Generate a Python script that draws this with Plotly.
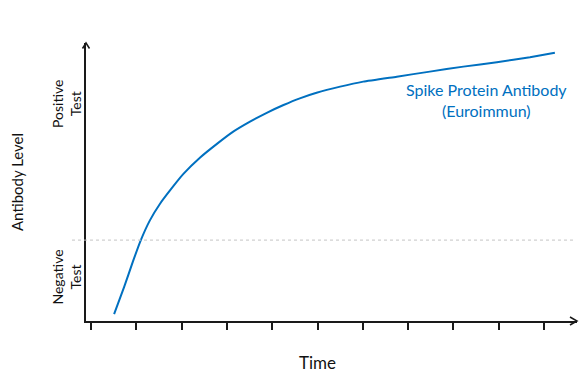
import plotly.graph_objects as go

# Data (time in tick units, antibody level 0-100)
time_vals = [0.51, 0.73, 0.93, 1.10, 1.30, 1.52, 1.77, 2.04, 2.41, 2.78, 3.14, 3.51,
             3.88, 4.25, 4.61, 4.98, 5.50, 6.01, 6.75, 7.48, 8.22, 8.96, 9.69, 10.24]
level_vals = [2.5, 12.2, 21.6, 29.1, 36.2, 42.1, 47.5, 52.9, 58.8, 63.7, 68.1, 71.7,
              74.9, 77.7, 80.1, 82.1, 84.3, 86.1, 87.9, 89.7, 91.5, 93.1, 94.9, 96.5]
tick_positions = list(range(11))
threshold = 29.1
series_name = "Spike Protein Antibody<br>(Euroimmun)"

BLUE = "#0070C0"
AX = "#1a1a1a"
FONT = "Lato"

fig = go.Figure()
fig.add_trace(go.Scatter(x=time_vals, y=level_vals, mode="lines",
                         line=dict(color=BLUE, width=2, shape="spline", smoothing=0.4),
                         hoverinfo="skip", showlegend=False))

W, H = 491.0, 278.0  # plot area in px

shapes = [
    # threshold dotted line
    dict(type="line", xref="paper", yref="y", x0=-14 / W, x1=489 / W, y0=threshold, y1=threshold,
         line=dict(color="#c4c4c4", width=1, dash="dot")),
    # x-axis arrow head
    dict(type="path", xref="paper", yref="paper",
         path=f"M {1 - 7 / W},{4 / H} L 1,0 L {1 - 7 / W},{-4 / H}",
         line=dict(color=AX, width=1.5)),
    # y-axis arrow head
    dict(type="path", xref="paper", yref="paper",
         path=f"M {-3.5 / W},{1 - 5.5 / H} L 0,1 L {3.5 / W},{1 - 5.5 / H}",
         line=dict(color=AX, width=1.5)),
]

annotations = [
    dict(text="Time", xref="paper", yref="paper", x=(317 - 86) / W, y=(321 - 362.5) / H,
         showarrow=False, xanchor="center", yanchor="middle",
         font=dict(family=FONT, size=17, color="#111")),
    dict(text="Antibody Level", xref="paper", yref="paper", x=(17 - 86) / W, y=(321 - 182) / H,
         textangle=-90, showarrow=False, xanchor="center", yanchor="middle",
         font=dict(family=FONT, size=15, color="#111")),
    dict(text="Positive<br>Test", xref="paper", yref="paper", x=(66 - 86) / W, y=(321 - 104) / H,
         textangle=-90, showarrow=False, xanchor="center", yanchor="middle",
         font=dict(family=FONT, size=14, color="#111")),
    dict(text="Negative<br>Test", xref="paper", yref="paper", x=(66 - 86) / W, y=(321 - 277.5) / H,
         textangle=-90, showarrow=False, xanchor="center", yanchor="middle",
         font=dict(family=FONT, size=14, color="#111")),
    dict(text=series_name, xref="paper", yref="paper", x=(486 - 86) / W, y=(321 - 100) / H,
         showarrow=False, xanchor="center", yanchor="middle",
         font=dict(family=FONT, size=16, color=BLUE)),
]

# The page body has an 8px default margin, so the figure is 8px smaller
# and its left/top margins are 8px smaller to keep the plot area in place.
fig.update_layout(
    width=580, height=373,
    margin=dict(l=78, r=11, t=35, b=60),
    paper_bgcolor="white", plot_bgcolor="white",
    shapes=shapes, annotations=annotations,
    xaxis=dict(range=[(86 - 91) / 45.3, (577 - 91) / 45.3], showgrid=False, zeroline=False,
               showline=True, linecolor=AX, linewidth=1.5,
               tickmode="array", tickvals=tick_positions, ticktext=[""] * len(tick_positions),
               ticks="outside", ticklen=7, tickwidth=1.5, tickcolor=AX, showticklabels=False,
               fixedrange=True),
    yaxis=dict(range=[0, 100], showgrid=False, zeroline=False,
               showline=True, linecolor=AX, linewidth=1.5,
               showticklabels=False, ticks="", fixedrange=True),
)

fig.write_html("out.html")
